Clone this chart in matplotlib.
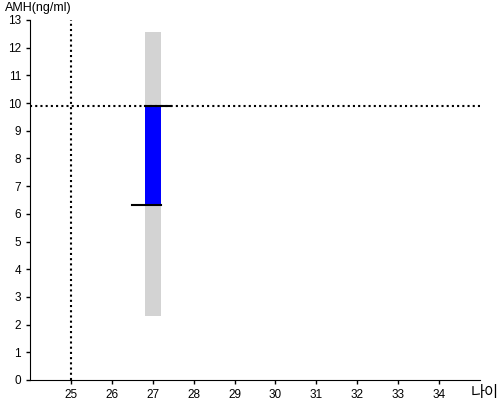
import matplotlib
matplotlib.use("Agg")
import matplotlib.pyplot as plt

plt.rcParams['font.family'] = ['Liberation Sans', 'Noto Sans CJK KR', 'DejaVu Sans']

age = [27]
range_low = [2.32]
range_high = [12.58]
val_low = [6.32]
val_high = [9.88]
ref_age = 25
ref_amh = 9.88
xticks = list(range(25, 35))
yticks = list(range(0, 14))

fig = plt.figure(figsize=(5, 4), dpi=100)
ax = fig.add_axes([0.06, 0.05, 0.90, 0.90])
ax.set_xlim(24, 35)
ax.set_ylim(0, 13)

bw = 0.4
for a, lo, hi in zip(age, range_low, range_high):
    ax.bar(a, hi - lo, bottom=lo, width=bw, color='#d3d3d3', zorder=1)
for a, lo, hi in zip(age, val_low, val_high):
    ax.bar(a, hi - lo, bottom=lo, width=bw, color='#0000ff', zorder=2)
    ax.plot([a - 0.2, a + 0.45], [hi, hi], color='black', lw=1.5, zorder=4)
    ax.plot([a - 0.5, a + 0.2], [lo, lo], color='black', lw=1.5, zorder=4)

ax.axhline(ref_amh, color='black', lw=1.5, ls=(0, (1, 1.5)), zorder=3)
ax.axvline(ref_age, color='black', lw=1.5, ls=(0, (1, 1.5)), zorder=3)

ax.set_xticks(xticks)
ax.set_yticks(yticks)
ax.tick_params(axis='both', labelsize=8.5, length=3, width=1)
for s in ['top', 'right']:
    ax.spines[s].set_visible(False)

fig.text(0.01, 0.965, 'AMH(ng/ml)', fontsize=9, ha='left', va='bottom')
fig.text(0.97, 0.018, '나이', fontsize=11, ha='center', va='center')

fig.savefig('out.png', dpi=100)
